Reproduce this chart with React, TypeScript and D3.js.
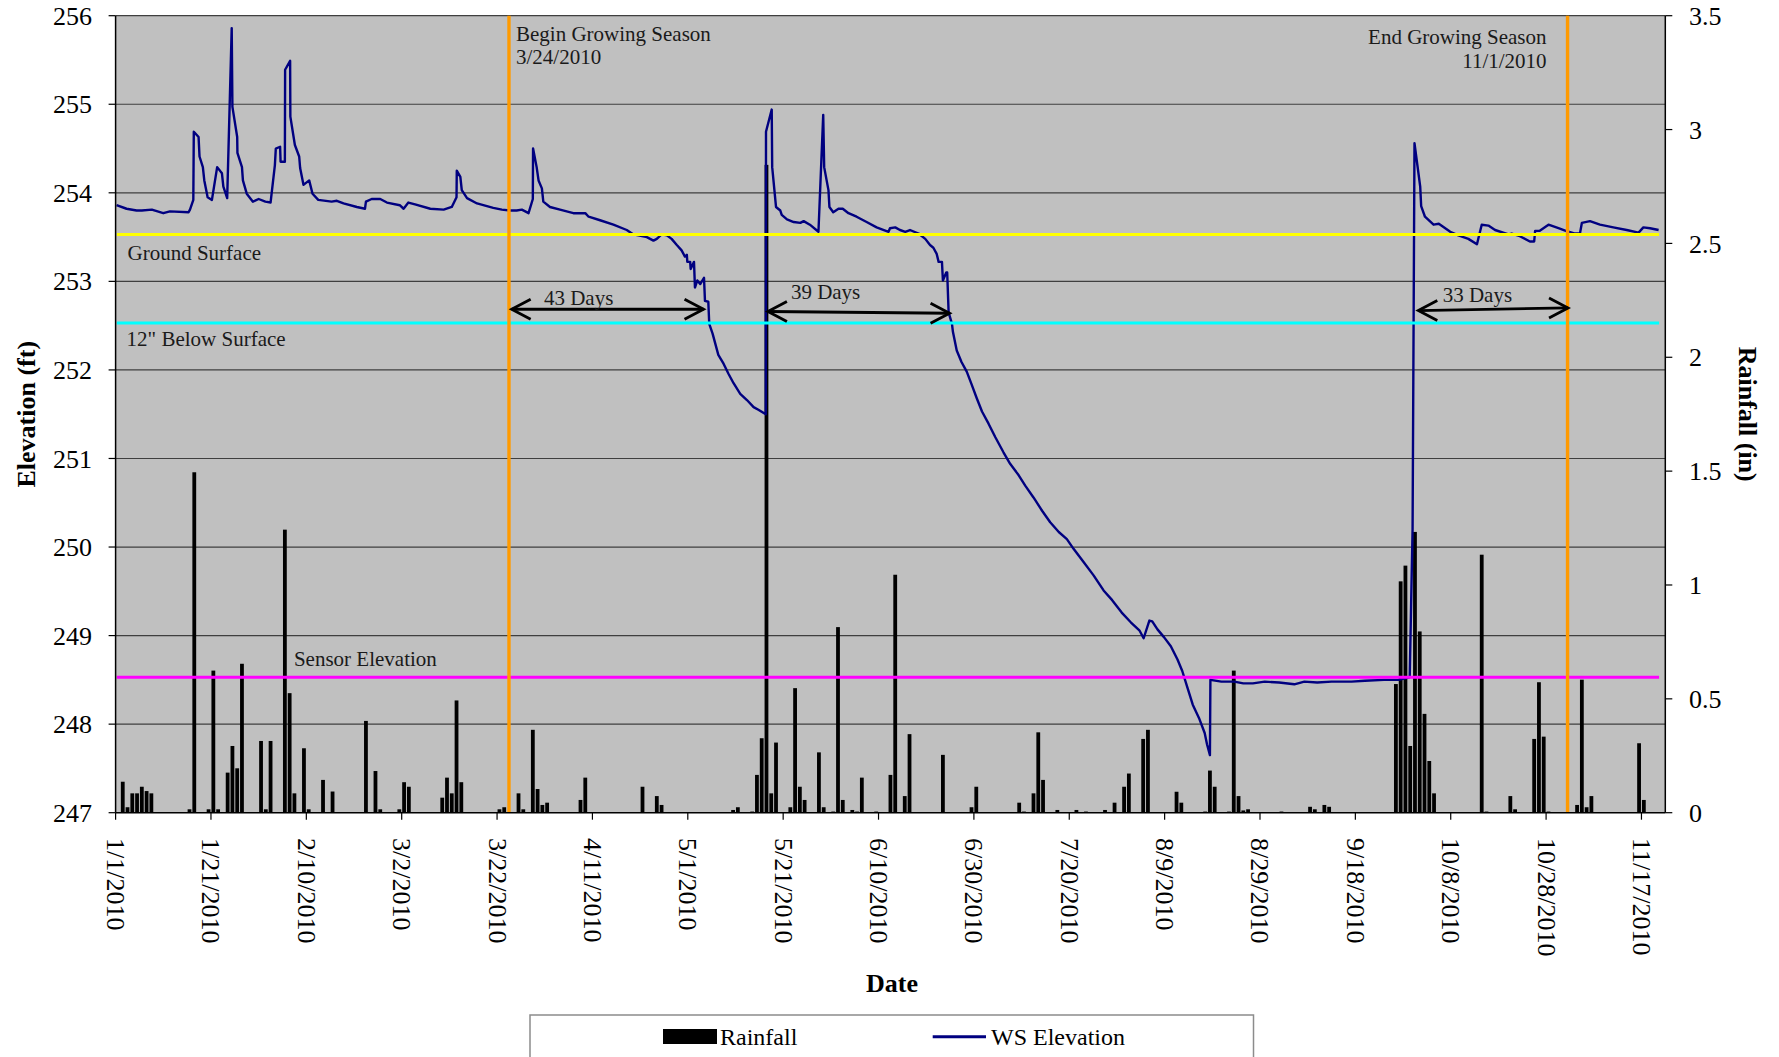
import React from "react";
import * as d3 from "d3";

// ---------- DATA ----------
// Water surface elevation (ft): position along the axis in days since 1/1/2010 00:00, and elevation
const wsDay = [
  0.2, 2.3, 4.4, 5.5, 7.6, 10.0, 11.4, 15.3, 15.6, 16.3, 16.4, 17.4, 17.6, 18.3, 18.6, 19.3, 20.2, 21.3, 22.3, 22.6,
  23.4, 24.35, 24.5, 25.5, 25.55, 26.5, 26.7, 27.5, 28.8, 30.0, 31.4, 32.5, 33.4, 33.6, 34.5, 34.6, 35.5, 35.55, 36.6, 36.65,
  37.6, 38.5, 38.7, 39.4, 40.6, 41.3, 42.5, 45.3, 46.4, 47.8, 50.6, 52.3, 52.5, 53.7, 55.5, 56.9, 59.6, 60.4, 61.4, 62.8,
  66.0, 68.8, 70.5, 71.5, 71.55, 72.3, 72.6, 73.7, 75.8, 79.2, 81.0, 82.7, 84.1, 85.2, 86.6, 87.5, 87.55, 88.3, 88.7, 89.4,
  89.7, 91.1, 93.2, 96.0, 98.5, 99.2, 101.6, 104.4, 107.2, 108.6, 111.4, 112.8, 113.5, 114.5, 115.6, 116.6, 117.7, 118.7, 119.4, 119.8,
  119.9, 120.5, 120.6, 121.3, 121.5, 122.0, 122.6, 123.4, 123.6, 124.3, 124.5, 125.2, 126.4, 127.5, 128.5, 129.6, 131.0, 132.4, 133.8, 134.8,
  136.0, 136.35, 136.4, 137.6, 137.7, 138.5, 139.4, 139.7, 140.8, 142.2, 143.6, 144.3, 145.6, 147.4, 148.4, 148.6, 149.5, 149.7, 150.5, 151.6,
  152.5, 153.7, 155.4, 157.5, 159.6, 162.1, 162.4, 163.5, 164.5, 165.6, 166.6, 168.4, 169.8, 170.8, 171.5, 172.2, 172.6, 173.3, 173.5, 174.2,
  174.4, 174.7, 175.4, 175.6, 176.4, 177.4, 178.5, 179.5, 180.6, 181.7, 183.1, 184.5, 186.2, 187.6, 189.4, 190.8, 192.5, 194.3, 196.0, 197.8,
  199.5, 200.9, 203.0, 205.1, 207.2, 209.0, 211.0, 212.9, 214.7, 215.6, 216.8, 217.4, 218.5, 219.9, 221.3, 222.7, 223.7, 224.8, 225.9, 227.2,
  228.4, 228.9, 229.5, 229.6, 231.9, 234.6, 236.5, 238.5, 241.0, 244.0, 247.2, 249.3, 252.0, 255.0, 259.2, 262.0, 266.0, 269.0, 271.4, 272.0,
  272.4, 273.6, 273.8, 274.6, 276.4, 277.5, 279.9, 281.6, 283.7, 285.5, 286.5, 287.9, 289.3, 292.1, 292.8, 294.5, 296.6, 297.5, 297.7, 298.6,
  300.5, 302.6, 304.7, 306.1, 307.1, 307.5, 309.2, 311.3, 314.1, 316.9, 319.4, 320.4, 321.8, 323.6,
];
const wsElev = [
  253.86, 253.82, 253.8, 253.8, 253.81, 253.77, 253.79, 253.78, 253.81, 253.92, 254.69, 254.63, 254.41, 254.29, 254.14, 253.95, 253.92, 254.29, 254.22, 254.07,
  253.94, 255.86, 254.97, 254.63, 254.45, 254.29, 254.14, 253.99, 253.9, 253.93, 253.9, 253.89, 254.31, 254.5, 254.52, 254.35, 254.35, 255.39, 255.49, 254.86,
  254.54, 254.41, 254.28, 254.09, 254.14, 253.99, 253.92, 253.9, 253.91, 253.88, 253.84, 253.82, 253.9, 253.93, 253.93, 253.89, 253.86, 253.82, 253.89, 253.87,
  253.82, 253.81, 253.84, 253.95, 254.25, 254.18, 254.03, 253.94, 253.88, 253.83, 253.81, 253.8, 253.8, 253.81, 253.77, 253.93, 254.5, 254.29, 254.14, 254.05,
  253.9, 253.84, 253.81, 253.77, 253.77, 253.73, 253.69, 253.64, 253.58, 253.53, 253.5, 253.46, 253.48, 253.53, 253.52, 253.48, 253.41, 253.35, 253.28, 253.3,
  253.22, 253.22, 253.14, 253.22, 252.93, 253.01, 252.97, 253.04, 252.78, 252.77, 252.52, 252.41, 252.17, 252.07, 251.96, 251.85, 251.73, 251.66, 251.58, 251.55,
  251.51, 251.5, 254.69, 254.94, 254.29, 253.84, 253.8, 253.75, 253.7, 253.67, 253.66, 253.68, 253.64, 253.56, 254.88, 254.29, 254.03, 253.84, 253.78, 253.82,
  253.82, 253.77, 253.73, 253.67, 253.61, 253.56, 253.6, 253.61, 253.58, 253.56, 253.58, 253.54, 253.48, 253.41, 253.38, 253.31, 253.22, 253.22, 253.01, 253.1,
  253.1, 252.65, 252.52, 252.43, 252.22, 252.09, 251.98, 251.84, 251.68, 251.53, 251.39, 251.24, 251.07, 250.94, 250.81, 250.69, 250.56, 250.41, 250.28, 250.17,
  250.09, 249.98, 249.83, 249.68, 249.51, 249.4, 249.26, 249.15, 249.06, 248.97, 249.17, 249.16, 249.07, 248.98, 248.88, 248.73, 248.6, 248.41, 248.22, 248.07,
  247.9, 247.77, 247.65, 248.5, 248.48, 248.48, 248.46, 248.46, 248.48, 248.47, 248.45, 248.48, 248.47, 248.48, 248.48, 248.49, 248.5, 248.5, 248.53, 250.2,
  254.56, 254.07, 253.85, 253.73, 253.64, 253.65, 253.56, 253.52, 253.48, 253.42, 253.64, 253.63, 253.58, 253.53, 253.54, 253.51, 253.45, 253.45, 253.57, 253.57,
  253.64, 253.6, 253.56, 253.54, 253.54, 253.66, 253.68, 253.64, 253.61, 253.58, 253.55, 253.61, 253.6, 253.58,
];

// Daily rainfall (in): day index since 1/1/2010 and amount
const rainDay = [
  1, 2, 3, 4, 5, 6, 7, 15, 16, 19, 20, 21, 23, 24, 25, 26, 30, 31, 32, 35,
  36, 37, 39, 40, 43, 45, 52, 54, 55, 59, 60, 61, 68, 69, 70, 71, 72, 80, 81, 84,
  85, 87, 88, 89, 90, 97, 98, 110, 113, 114, 129, 130, 133, 134, 135, 136, 137, 138, 141, 142,
  143, 144, 147, 148, 150, 151, 152, 154, 155, 156, 159, 162, 163, 165, 166, 173, 179, 180, 189, 190,
  192, 193, 194, 197, 201, 203, 207, 209, 211, 212, 215, 216, 222, 223, 228, 229, 230, 233, 234, 235,
  236, 237, 244, 250, 251, 253, 254, 268, 269, 270, 271, 272, 273, 274, 275, 276, 286, 287, 292, 293,
  297, 298, 299, 300, 306, 307, 308, 309, 319, 320,
];
const rainIn = [
  0.136, 0.024, 0.085, 0.085, 0.114, 0.095, 0.085, 0.015, 1.495, 0.015, 0.624, 0.015, 0.176, 0.293, 0.195, 0.654, 0.315, 0.015, 0.315, 1.243,
  0.525, 0.085, 0.283, 0.015, 0.144, 0.093, 0.403, 0.183, 0.015, 0.015, 0.134, 0.114, 0.066, 0.154, 0.085, 0.493, 0.134, 0.015, 0.024, 0.085,
  0.015, 0.364, 0.104, 0.034, 0.044, 0.056, 0.154, 0.114, 0.073, 0.034, 0.012, 0.024, 0.005, 0.166, 0.327, 2.845, 0.085, 0.308, 0.024, 0.547,
  0.114, 0.056, 0.265, 0.024, 0.005, 0.815, 0.056, 0.012, 0.005, 0.154, 0.005, 0.166, 1.045, 0.073, 0.345, 0.254, 0.024, 0.114, 0.044, 0.005,
  0.085, 0.353, 0.144, 0.012, 0.012, 0.005, 0.012, 0.044, 0.114, 0.172, 0.324, 0.364, 0.092, 0.044, 0.005, 0.185, 0.114, 0.005, 0.624, 0.073,
  0.01, 0.015, 0.005, 0.026, 0.015, 0.034, 0.026, 0.565, 1.016, 1.085, 0.293, 1.233, 0.796, 0.434, 0.227, 0.085, 1.133, 0.005, 0.073, 0.015,
  0.324, 0.573, 0.334, 0.005, 0.034, 0.584, 0.024, 0.073, 0.305, 0.056,
];

const xTickLabels = [
  "1/1/2010", "1/21/2010", "2/10/2010", "3/2/2010", "3/22/2010", "4/11/2010", "5/1/2010", "5/21/2010", "6/10/2010",
  "6/30/2010", "7/20/2010", "8/9/2010", "8/29/2010", "9/18/2010", "10/8/2010", "10/28/2010", "11/17/2010",
];
const yLeftTicks = [247, 248, 249, 250, 251, 252, 253, 254, 255, 256];
const yRightTicks = [0, 0.5, 1, 1.5, 2, 2.5, 3, 3.5];

// Reference elevations (ft)
const refNames = ["Ground Surface", "12\" Below Surface", "Sensor Elevation"];
const refElev = [253.53, 252.53, 248.53];

// Growing season boundaries
const seasonNames = ["Begin Growing Season", "End Growing Season"];
const seasonDates = ["3/24/2010", "11/1/2010"];

// Dry spells (days below 12"): start/end along the axis (days since 1/1) and elevation of the arrow
const spanLabels = ["43 Days", "39 Days", "33 Days"];
const spanStart = [83.06, 136.8, 273.2];
const spanEnd = [123.3, 174.9, 304.6];
const spanElevStart = [252.685, 252.66, 252.67];
const spanElevEnd = [252.685, 252.64, 252.7];
const spanLabelDay = [97.1, 148.9, 285.6];
const spanLabelElev = [252.733, 252.798, 252.771];

// ---------- STYLE ----------
const FONT = "'Liberation Serif', 'Times New Roman', Times, serif";
const refColors = ["#FFFF00", "#00FFFF", "#FF00FF"];
const SEASON_COLOR = "#FF9A00";
const WS_COLOR = "#000080";
const PLOT_BG = "#C0C0C0";

export default function App() {
  const W = 1779;
  const H = 1057;
  const plot = { left: 115.6, right: 1665.3, top: 15.7, bottom: 812.7 };

  const t0 = Date.UTC(2010, 0, 1);
  const DAY = 864e5;
  const dayToDate = (d: number) => new Date(t0 + d * DAY);
  const parseMDY = (s: string) => {
    const [m, d, y] = s.split("/").map(Number);
    return (Date.UTC(y, m - 1, d) - t0) / DAY;
  };

  const x = d3.scaleUtc().domain([dayToDate(0), dayToDate(325)]).range([plot.left, plot.right]);
  const xd = (d: number) => x(dayToDate(d));
  const yL = d3.scaleLinear().domain([247, 256]).range([plot.bottom, plot.top]);
  const yR = d3.scaleLinear().domain([0, 3.5]).range([plot.bottom, plot.top]);

  const wsLine = d3
    .line<number>()
    .x((_, i) => xd(wsDay[i]))
    .y((_, i) => yL(wsElev[i]))(wsDay.map((_, i) => i));

  const barW = 3.8;
  const refX1 = xd(0.25);
  const refX2 = xd(323.7);

  const refLabelDy = [26, 23, -11.5];
  const refLabelDay = [2.5, 2.3, 37.4];

  const arrowHead = (tx: number, ty: number, dir: number) =>
    `M${tx + dir * 19},${ty - 10} L${tx},${ty} L${tx + dir * 19},${ty + 10}`;

  return (
    <div>
      <style>{`html,body{margin:0;padding:0;overflow:hidden;background:#fff}`}</style>
      <svg width={W} height={H} style={{ position: "absolute", left: 0, top: 0, display: "block" }} fontFamily={FONT}>
        <rect x={0} y={0} width={W} height={H} fill="#fff" />
        {/* plot background */}
        <rect x={plot.left} y={plot.top} width={plot.right - plot.left} height={plot.bottom - plot.top} fill={PLOT_BG} />

        {/* gridlines */}
        {yLeftTicks.filter((v) => v > 247).map((v) => (
          <line key={"g" + v} x1={plot.left} x2={plot.right} y1={yL(v)} y2={yL(v)} stroke="#3f3f3f" strokeWidth={1.2} />
        ))}

        {/* rainfall bars */}
        {rainDay.map((d, i) => {
          const cx = xd(d + 0.5);
          return (
            <rect key={"r" + i} x={cx - barW / 2} y={yR(rainIn[i])} width={barW} height={yR(0) - yR(rainIn[i])} fill="#000" />
          );
        })}

        {/* WS elevation line */}
        <path d={wsLine || ""} fill="none" stroke={WS_COLOR} strokeWidth={2.4} strokeLinejoin="round" />

        {/* reference lines */}
        {refElev.map((e, i) => (
          <line key={"ref" + i} x1={refX1} x2={refX2} y1={yL(e)} y2={yL(e)} stroke={refColors[i]} strokeWidth={3} />
        ))}
        {refNames.map((n, i) => (
          <text key={"refl" + i} x={xd(refLabelDay[i])} y={yL(refElev[i]) + refLabelDy[i]} fontSize={21} fill="#1a1a1a">
            {n}
          </text>
        ))}

        {/* growing season lines */}
        {seasonDates.map((s, i) => {
          const xx = xd(parseMDY(s) + 0.5);
          return <line key={"s" + i} x1={xx} x2={xx} y1={plot.top} y2={plot.bottom} stroke={SEASON_COLOR} strokeWidth={3.4} />;
        })}
        <text x={xd(parseMDY(seasonDates[0]) + 0.5) + 7} y={41} fontSize={21} fill="#1a1a1a">
          {seasonNames[0]}
        </text>
        <text x={xd(parseMDY(seasonDates[0]) + 0.5) + 7} y={64} fontSize={21} fill="#1a1a1a">
          {seasonDates[0]}
        </text>
        <text x={xd(parseMDY(seasonDates[1]) + 0.5) - 21} y={43.5} fontSize={21} fill="#1a1a1a" textAnchor="end">
          {seasonNames[1]}
        </text>
        <text x={xd(parseMDY(seasonDates[1]) + 0.5) - 21} y={67.5} fontSize={21} fill="#1a1a1a" textAnchor="end">
          {seasonDates[1]}
        </text>

        {/* dry-spell arrows */}
        {spanLabels.map((lab, i) => {
          const x1 = xd(spanStart[i]);
          const x2 = xd(spanEnd[i]);
          const y1 = yL(spanElevStart[i]);
          const y2 = yL(spanElevEnd[i]);
          return (
            <g key={"sp" + i} stroke="#000" strokeWidth={2.8} fill="none">
              <line x1={x1} y1={y1} x2={x2} y2={y2} />
              <path d={arrowHead(x1, y1, 1)} />
              <path d={arrowHead(x2, y2, -1)} />
              <text
                x={xd(spanLabelDay[i])}
                y={yL(spanLabelElev[i])}
                fontSize={21}
                fill="#1a1a1a"
                stroke="none"
                textAnchor="middle"
              >
                {lab}
              </text>
            </g>
          );
        })}

        {/* axes */}
        <line x1={plot.left} x2={plot.left} y1={plot.top} y2={plot.bottom} stroke="#000" strokeWidth={1.5} />
        <line x1={plot.right} x2={plot.right} y1={plot.top} y2={plot.bottom} stroke="#000" strokeWidth={1.5} />
        <line x1={plot.left} x2={plot.right} y1={plot.bottom} y2={plot.bottom} stroke="#000" strokeWidth={1.5} />

        {yLeftTicks.map((v) => (
          <g key={"yl" + v}>
            <line x1={plot.left - 7} x2={plot.left} y1={yL(v)} y2={yL(v)} stroke="#000" strokeWidth={1.2} />
            <text x={92} y={yL(v)} dy="0.35em" fontSize={26} textAnchor="end" fill="#000">
              {v}
            </text>
          </g>
        ))}
        {yRightTicks.map((v) => (
          <g key={"yr" + v}>
            <line x1={plot.right} x2={plot.right + 7} y1={yR(v)} y2={yR(v)} stroke="#000" strokeWidth={1.2} />
            <text x={1689} y={yR(v)} dy="0.35em" fontSize={26} textAnchor="start" fill="#000">
              {v}
            </text>
          </g>
        ))}
        {xTickLabels.map((lab) => {
          const xx = xd(parseMDY(lab));
          return (
            <g key={"xt" + lab}>
              <line x1={xx} x2={xx} y1={plot.bottom} y2={plot.bottom + 7} stroke="#000" strokeWidth={1.2} />
              <text
                transform={`translate(${xx},838) rotate(90)`}
                fontSize={26}
                dominantBaseline="central"
                textAnchor="start"
                fill="#000"
              >
                {lab}
              </text>
            </g>
          );
        })}

        {/* axis titles */}
        <text transform={`translate(26,${(plot.top + plot.bottom) / 2}) rotate(-90)`} fontSize={26} fontWeight="bold" textAnchor="middle" dominantBaseline="central">
          Elevation (ft)
        </text>
        <text transform={`translate(1747,${(plot.top + plot.bottom) / 2}) rotate(90)`} fontSize={26} fontWeight="bold" textAnchor="middle" dominantBaseline="central">
          Rainfall (in)
        </text>
        <text x={892} y={992} fontSize={26} fontWeight="bold" textAnchor="middle">
          Date
        </text>

        {/* legend */}
        <rect x={530} y={1015} width={723.5} height={80} fill="#fff" stroke="#8c8c8c" strokeWidth={1.5} />
        <rect x={663} y={1029} width={54} height={15} fill="#000" />
        <text x={720} y={1045} fontSize={24}>Rainfall</text>
        <line x1={932.7} x2={986} y1={1036.7} y2={1036.7} stroke={WS_COLOR} strokeWidth={3} />
        <text x={991} y={1045} fontSize={24}>WS Elevation</text>
      </svg>
    </div>
  );
}
